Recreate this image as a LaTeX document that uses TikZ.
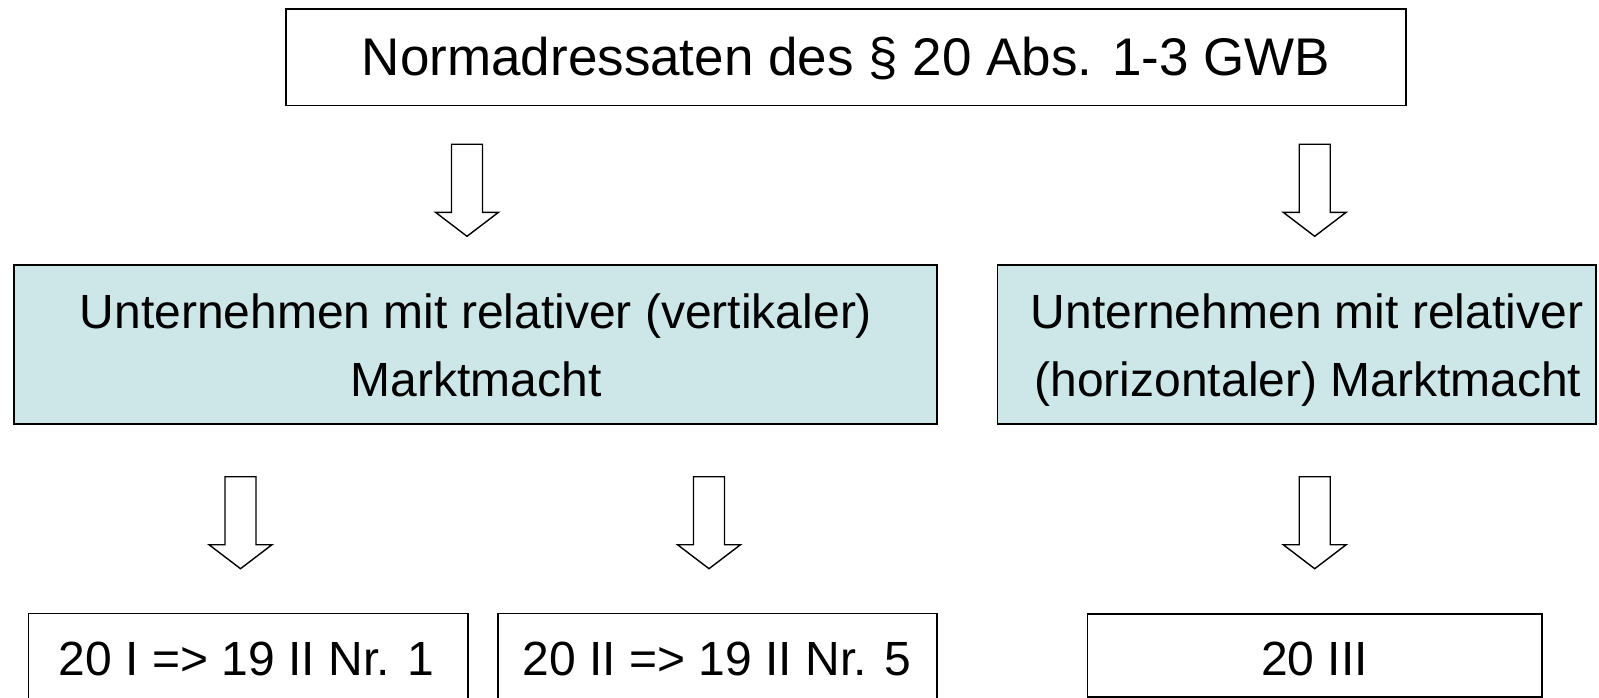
\documentclass[tikz,border=0pt]{standalone}
\usepackage{fontspec}
\setmainfont{Liberation Sans}
\definecolor{boxblue}{RGB}{205,231,233}
\begin{document}
\begin{tikzpicture}[x=1pt,y=-1pt,
  box/.style={draw=black, line width=1.6pt, inner sep=0pt, outer sep=0pt},
  bluebox/.style={box, fill=boxblue},
  txt/.style={inner sep=0pt, anchor=base, font=\fontsize{48}{58}\selectfont},
  bigtxt/.style={inner sep=0pt, anchor=base, font=\fontsize{53}{64}\selectfont},
  downarrow/.pic={\draw[line width=1.4pt, fill=white, line join=miter]
     (-15.5,0) -- (15.5,0) -- (15.5,68) -- (31.5,68) -- (0,92) -- (-31.5,68) -- (-15.5,68) -- cycle;}
]
\useasboundingbox (0,0) rectangle (1599,698);
\fill[white] (0,0) rectangle (1599,698);

% boxes
\node[box, minimum width=1120.3pt, minimum height=96.5pt] (top) at (845.9,57.3) {};
\node[bluebox, minimum width=922.7pt, minimum height=159pt] (vert) at (475.35,344.5) {};
\node[bluebox, minimum width=598.7pt, minimum height=159pt] (hor) at (1296.65,344.5) {};
\node[box, minimum width=439.4pt, minimum height=92pt] (b1) at (248,659.3) {};
\node[box, minimum width=439pt, minimum height=92pt] (b2) at (717.2,659.3) {};
\node[box, minimum width=454.5pt, minimum height=83pt] (b3) at (1314.75,655.3) {};

% texts
\node[bigtxt] (toptext) at (846,75.7) {Normadressaten des § 20 Abs. 1-3 GWB};
\node[txt] (vert1) at (476,328.3) {Unternehmen mit relativer (vertikaler)};
\node[txt] (vert2) at (476,396.7) {Marktmacht};
\node[txt] (hor1) at (1307,328.3) {Unternehmen mit relativer};
\node[txt] (hor2) at (1308,396.7) {(horizontaler) Marktmacht};
\node[txt] (b1text) at (246.6,675) {20 I => 19 II Nr. 1};
\node[txt] (b2text) at (717,675) {20 II => 19 II Nr. 5};
\node[txt] (b3text) at (1314.5,675) {20 III};

% block arrows
\pic (a1) at (467,144.3) {downarrow};
\pic (a2) at (1314.7,144.3) {downarrow};
\pic (a3) at (240.5,476.7) {downarrow};
\pic (a4) at (709,476.7) {downarrow};
\pic (a5) at (1314.7,476.7) {downarrow};
\end{tikzpicture}
\end{document}
